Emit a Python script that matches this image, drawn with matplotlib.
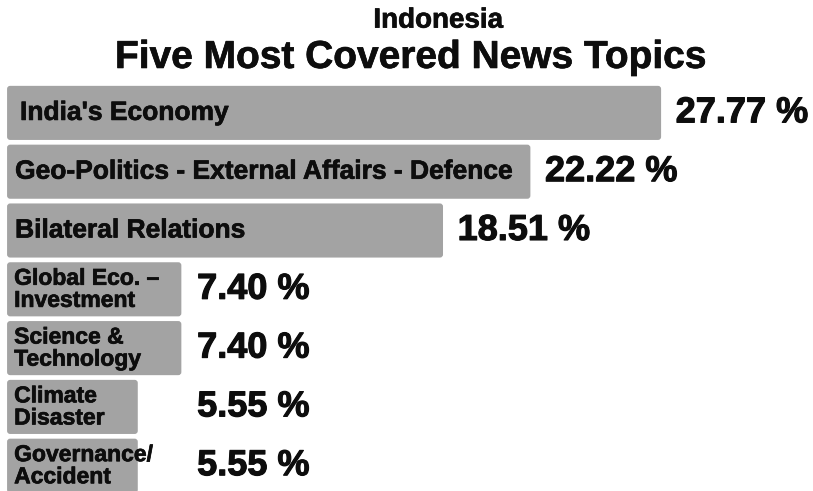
import matplotlib
matplotlib.use("Agg")
import matplotlib.pyplot as plt
import matplotlib.patheffects as pe
from matplotlib.patches import FancyBboxPatch

# Topic shares for Indonesia
topics = [
    "India's Economy",
    "Geo-Politics - External Affairs - Defence",
    "Bilateral Relations",
    "Global Eco. \u2013\nInvestment",
    "Science &\nTechnology",
    "Climate\nDisaster",
    "Governance/\nAccident",
]
shares = [27.77, 22.22, 18.51, 7.40, 7.40, 5.55, 5.55]
value_labels = ["27.77 %", "22.22 %", "18.51 %", "7.40 %", "7.40 %", "5.55 %", "5.55 %"]

BAR_COLOR = "#a3a3a3"
TEXT_COLOR = "#0d0d0d"
FONT = "Liberation Sans"
heavy = [pe.withStroke(linewidth=0.8, foreground=TEXT_COLOR)]
light = [pe.withStroke(linewidth=0.5, foreground=TEXT_COLOR)]

fig = plt.figure(figsize=(8.13, 4.91), dpi=100)
ax = fig.add_axes([0, 0, 1, 1])
ax.set_xlim(-0.30, 34.22)
ax.set_ylim(6.43, -1.92)
ax.axis("off")

ypos = list(range(len(topics)))
bars = ax.barh(ypos, shares, height=0.92, color=BAR_COLOR)

# swap the plain rectangles for slightly rounded ones
aspect = 23.55 / 58.8
for b in bars:
    b.set_visible(False)
    ax.add_patch(FancyBboxPatch((b.get_x(), b.get_y()), b.get_width(), b.get_height(),
                                boxstyle="round,pad=0,rounding_size=0.13",
                                mutation_aspect=aspect,
                                facecolor=BAR_COLOR, edgecolor="none"))

for i, (name, v, lab) in enumerate(zip(topics, shares, value_labels)):
    two_line = "\n" in name
    if i == 0:
        tx = 0.55
    elif two_line:
        tx = 0.30
    else:
        tx = 0.34
    ax.text(tx, i, name, ha="left", va="center",
            fontsize=16.5 if two_line else 19, fontweight="bold",
            family=FONT, color=TEXT_COLOR, linespacing=0.95,
            path_effects=light)
    # short bars keep their percentages lined up in one column
    lx = max(v, 7.45) + 0.62
    ax.text(lx, i, lab, ha="left", va="center", fontsize=26,
            fontweight="bold", family=FONT, color=TEXT_COLOR,
            path_effects=heavy)

fig.text(0.539, 0.958, "Indonesia", ha="center", va="center", fontsize=20,
         fontweight="bold", family=FONT, color=TEXT_COLOR, path_effects=light)
fig.text(0.505, 0.882, "Five Most Covered News Topics", ha="center", va="center",
         fontsize=28, fontweight="bold", family=FONT, color=TEXT_COLOR,
         path_effects=light)

fig.savefig("out.png", dpi=100)
